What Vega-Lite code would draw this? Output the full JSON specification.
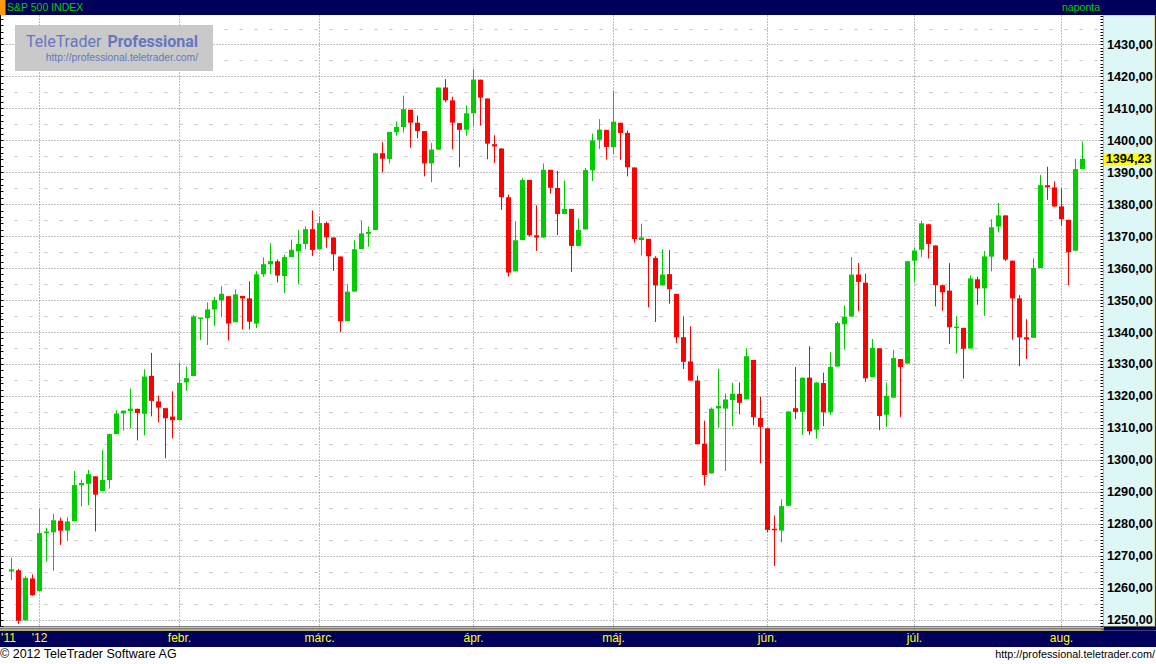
{
  "$schema": "https://vega.github.io/schema/vega-lite/v6.json",
  "width": 1156,
  "height": 664,
  "autosize": {"type": "none"},
  "padding": 0,
  "background": "#ffffff",
  "config": {
    "view": {"stroke": null},
    "font": "Liberation Sans",
    "scale": {"continuousPadding": 0},
    "axis": {"minExtent": 0, "maxExtent": 0},
    "locale": {"number": {"decimal": ",", "thousands": ".", "grouping": [3], "currency": ["", ""]}}
  },
  "datasets": {
    "ohlc": [
      {"i":0,"d":"2011-12-27","o":1265.02,"h":1269.37,"l":1262.30,"c":1265.43},
      {"i":1,"d":"2011-12-28","o":1265.38,"h":1265.85,"l":1248.64,"c":1249.64},
      {"i":2,"d":"2011-12-29","o":1249.75,"h":1263.54,"l":1249.75,"c":1263.02},
      {"i":3,"d":"2011-12-30","o":1262.82,"h":1264.12,"l":1257.46,"c":1257.60},
      {"i":4,"d":"2012-01-03","o":1258.86,"h":1284.62,"l":1258.86,"c":1277.06},
      {"i":5,"d":"2012-01-04","o":1277.03,"h":1278.73,"l":1268.10,"c":1277.30},
      {"i":6,"d":"2012-01-05","o":1277.30,"h":1283.05,"l":1265.26,"c":1281.06},
      {"i":7,"d":"2012-01-06","o":1280.93,"h":1281.84,"l":1273.34,"c":1277.81},
      {"i":8,"d":"2012-01-09","o":1277.83,"h":1281.99,"l":1274.55,"c":1280.70},
      {"i":9,"d":"2012-01-10","o":1280.77,"h":1296.46,"l":1280.77,"c":1292.08},
      {"i":10,"d":"2012-01-11","o":1292.02,"h":1293.80,"l":1285.41,"c":1292.48},
      {"i":11,"d":"2012-01-12","o":1292.48,"h":1296.82,"l":1285.77,"c":1295.50},
      {"i":12,"d":"2012-01-13","o":1294.82,"h":1294.82,"l":1277.58,"c":1289.09},
      {"i":13,"d":"2012-01-17","o":1290.22,"h":1303.00,"l":1290.22,"c":1293.67},
      {"i":14,"d":"2012-01-18","o":1293.65,"h":1308.11,"l":1290.99,"c":1308.04},
      {"i":15,"d":"2012-01-19","o":1308.07,"h":1315.49,"l":1308.07,"c":1314.50},
      {"i":16,"d":"2012-01-20","o":1314.49,"h":1315.38,"l":1309.17,"c":1315.38},
      {"i":17,"d":"2012-01-23","o":1315.29,"h":1322.28,"l":1309.89,"c":1316.00},
      {"i":18,"d":"2012-01-24","o":1315.96,"h":1315.96,"l":1306.06,"c":1314.65},
      {"i":19,"d":"2012-01-25","o":1314.40,"h":1328.30,"l":1307.65,"c":1326.06},
      {"i":20,"d":"2012-01-26","o":1326.28,"h":1333.47,"l":1313.60,"c":1318.43},
      {"i":21,"d":"2012-01-27","o":1318.25,"h":1320.06,"l":1311.72,"c":1316.33},
      {"i":22,"d":"2012-01-30","o":1316.16,"h":1316.16,"l":1300.49,"c":1313.01},
      {"i":23,"d":"2012-01-31","o":1313.53,"h":1321.41,"l":1306.69,"c":1312.41},
      {"i":24,"d":"2012-02-01","o":1312.45,"h":1330.52,"l":1312.45,"c":1324.09},
      {"i":25,"d":"2012-02-02","o":1324.24,"h":1329.19,"l":1321.57,"c":1325.54},
      {"i":26,"d":"2012-02-03","o":1326.21,"h":1345.34,"l":1326.21,"c":1344.90},
      {"i":27,"d":"2012-02-06","o":1344.32,"h":1344.36,"l":1337.52,"c":1344.33},
      {"i":28,"d":"2012-02-07","o":1344.33,"h":1349.24,"l":1335.92,"c":1347.05},
      {"i":29,"d":"2012-02-08","o":1347.04,"h":1351.00,"l":1341.95,"c":1349.96},
      {"i":30,"d":"2012-02-09","o":1349.97,"h":1354.32,"l":1344.63,"c":1351.95},
      {"i":31,"d":"2012-02-10","o":1351.21,"h":1351.21,"l":1337.35,"c":1342.64},
      {"i":32,"d":"2012-02-13","o":1343.06,"h":1353.35,"l":1343.06,"c":1351.77},
      {"i":33,"d":"2012-02-14","o":1351.30,"h":1351.30,"l":1340.83,"c":1350.50},
      {"i":34,"d":"2012-02-15","o":1350.52,"h":1355.87,"l":1340.80,"c":1343.23},
      {"i":35,"d":"2012-02-16","o":1342.61,"h":1359.02,"l":1341.22,"c":1358.04},
      {"i":36,"d":"2012-02-17","o":1358.06,"h":1363.40,"l":1357.24,"c":1361.23},
      {"i":37,"d":"2012-02-21","o":1361.22,"h":1367.76,"l":1358.11,"c":1362.21},
      {"i":38,"d":"2012-02-22","o":1362.11,"h":1362.70,"l":1355.53,"c":1357.66},
      {"i":39,"d":"2012-02-23","o":1357.53,"h":1364.24,"l":1352.28,"c":1363.46},
      {"i":40,"d":"2012-02-24","o":1363.46,"h":1368.92,"l":1363.46,"c":1365.74},
      {"i":41,"d":"2012-02-27","o":1365.20,"h":1371.94,"l":1354.92,"c":1367.59},
      {"i":42,"d":"2012-02-28","o":1367.56,"h":1373.09,"l":1365.97,"c":1372.18},
      {"i":43,"d":"2012-02-29","o":1372.20,"h":1378.04,"l":1363.81,"c":1365.68},
      {"i":44,"d":"2012-03-01","o":1365.90,"h":1376.17,"l":1365.90,"c":1374.09},
      {"i":45,"d":"2012-03-02","o":1374.09,"h":1374.53,"l":1366.42,"c":1369.63},
      {"i":46,"d":"2012-03-05","o":1369.59,"h":1369.59,"l":1359.13,"c":1364.33},
      {"i":47,"d":"2012-03-06","o":1363.63,"h":1363.63,"l":1340.03,"c":1343.36},
      {"i":48,"d":"2012-03-07","o":1343.39,"h":1354.85,"l":1343.39,"c":1352.63},
      {"i":49,"d":"2012-03-08","o":1352.65,"h":1368.72,"l":1352.65,"c":1365.91},
      {"i":50,"d":"2012-03-09","o":1365.97,"h":1374.76,"l":1365.97,"c":1370.87},
      {"i":51,"d":"2012-03-12","o":1370.78,"h":1373.04,"l":1366.69,"c":1371.09},
      {"i":52,"d":"2012-03-13","o":1371.92,"h":1396.13,"l":1371.92,"c":1395.95},
      {"i":53,"d":"2012-03-14","o":1395.95,"h":1399.42,"l":1389.97,"c":1394.28},
      {"i":54,"d":"2012-03-15","o":1394.17,"h":1402.63,"l":1392.78,"c":1402.60},
      {"i":55,"d":"2012-03-16","o":1402.55,"h":1405.88,"l":1401.47,"c":1404.17},
      {"i":56,"d":"2012-03-19","o":1404.17,"h":1414.00,"l":1402.43,"c":1409.75},
      {"i":57,"d":"2012-03-20","o":1409.59,"h":1409.59,"l":1397.68,"c":1405.52},
      {"i":58,"d":"2012-03-21","o":1405.52,"h":1407.75,"l":1400.64,"c":1402.89},
      {"i":59,"d":"2012-03-22","o":1402.89,"h":1402.89,"l":1388.73,"c":1392.78},
      {"i":60,"d":"2012-03-23","o":1392.78,"h":1399.18,"l":1386.87,"c":1397.11},
      {"i":61,"d":"2012-03-26","o":1397.11,"h":1416.58,"l":1397.11,"c":1416.51},
      {"i":62,"d":"2012-03-27","o":1416.55,"h":1419.15,"l":1411.95,"c":1412.52},
      {"i":63,"d":"2012-03-28","o":1412.52,"h":1413.65,"l":1397.20,"c":1405.54},
      {"i":64,"d":"2012-03-29","o":1405.39,"h":1405.39,"l":1391.56,"c":1403.28},
      {"i":65,"d":"2012-03-30","o":1403.31,"h":1410.89,"l":1401.42,"c":1408.47},
      {"i":66,"d":"2012-04-02","o":1408.47,"h":1422.38,"l":1404.46,"c":1419.04},
      {"i":67,"d":"2012-04-03","o":1418.98,"h":1419.00,"l":1404.62,"c":1413.38},
      {"i":68,"d":"2012-04-04","o":1413.09,"h":1413.09,"l":1394.09,"c":1398.96},
      {"i":69,"d":"2012-04-05","o":1398.79,"h":1401.60,"l":1392.92,"c":1398.08},
      {"i":70,"d":"2012-04-09","o":1397.45,"h":1397.45,"l":1378.24,"c":1382.20},
      {"i":71,"d":"2012-04-10","o":1382.18,"h":1383.01,"l":1357.38,"c":1358.59},
      {"i":72,"d":"2012-04-11","o":1358.98,"h":1374.71,"l":1358.98,"c":1368.71},
      {"i":73,"d":"2012-04-12","o":1368.77,"h":1388.13,"l":1368.77,"c":1387.57},
      {"i":74,"d":"2012-04-13","o":1387.61,"h":1387.61,"l":1369.85,"c":1370.26},
      {"i":75,"d":"2012-04-16","o":1370.27,"h":1379.66,"l":1365.38,"c":1369.57},
      {"i":76,"d":"2012-04-17","o":1369.57,"h":1392.76,"l":1369.57,"c":1390.78},
      {"i":77,"d":"2012-04-18","o":1390.78,"h":1390.78,"l":1383.29,"c":1385.14},
      {"i":78,"d":"2012-04-19","o":1385.08,"h":1390.46,"l":1370.30,"c":1376.92},
      {"i":79,"d":"2012-04-20","o":1376.96,"h":1387.40,"l":1376.96,"c":1378.53},
      {"i":80,"d":"2012-04-23","o":1378.53,"h":1378.53,"l":1358.79,"c":1366.94},
      {"i":81,"d":"2012-04-24","o":1366.97,"h":1375.57,"l":1366.82,"c":1371.97},
      {"i":82,"d":"2012-04-25","o":1372.11,"h":1391.37,"l":1372.11,"c":1390.69},
      {"i":83,"d":"2012-04-26","o":1390.64,"h":1402.09,"l":1387.28,"c":1399.98},
      {"i":84,"d":"2012-04-27","o":1400.19,"h":1406.64,"l":1397.31,"c":1403.36},
      {"i":85,"d":"2012-04-30","o":1403.26,"h":1403.26,"l":1394.00,"c":1397.91},
      {"i":86,"d":"2012-05-01","o":1397.86,"h":1415.32,"l":1395.73,"c":1405.82},
      {"i":87,"d":"2012-05-02","o":1405.50,"h":1405.50,"l":1393.92,"c":1402.31},
      {"i":88,"d":"2012-05-03","o":1402.32,"h":1403.07,"l":1388.71,"c":1391.57},
      {"i":89,"d":"2012-05-04","o":1391.51,"h":1391.51,"l":1367.96,"c":1369.10},
      {"i":90,"d":"2012-05-07","o":1368.79,"h":1373.91,"l":1363.94,"c":1369.58},
      {"i":91,"d":"2012-05-08","o":1369.16,"h":1369.16,"l":1347.75,"c":1363.72},
      {"i":92,"d":"2012-05-09","o":1363.20,"h":1363.73,"l":1343.13,"c":1354.58},
      {"i":93,"d":"2012-05-10","o":1354.58,"h":1365.88,"l":1354.58,"c":1357.99},
      {"i":94,"d":"2012-05-11","o":1358.11,"h":1365.66,"l":1348.89,"c":1353.39},
      {"i":95,"d":"2012-05-14","o":1351.93,"h":1351.93,"l":1336.61,"c":1338.35},
      {"i":96,"d":"2012-05-15","o":1338.36,"h":1344.94,"l":1328.41,"c":1330.66},
      {"i":97,"d":"2012-05-16","o":1330.78,"h":1341.78,"l":1324.79,"c":1324.80},
      {"i":98,"d":"2012-05-17","o":1324.82,"h":1326.36,"l":1304.86,"c":1304.86},
      {"i":99,"d":"2012-05-18","o":1305.05,"h":1312.24,"l":1291.98,"c":1295.22},
      {"i":100,"d":"2012-05-21","o":1295.73,"h":1316.39,"l":1295.73,"c":1315.99},
      {"i":101,"d":"2012-05-22","o":1316.09,"h":1328.49,"l":1310.04,"c":1316.63},
      {"i":102,"d":"2012-05-23","o":1316.02,"h":1320.71,"l":1296.53,"c":1318.86},
      {"i":103,"d":"2012-05-24","o":1318.72,"h":1324.14,"l":1310.50,"c":1320.68},
      {"i":104,"d":"2012-05-25","o":1320.64,"h":1324.20,"l":1314.23,"c":1317.82},
      {"i":105,"d":"2012-05-29","o":1318.90,"h":1334.93,"l":1318.90,"c":1332.42},
      {"i":106,"d":"2012-05-30","o":1331.25,"h":1331.25,"l":1310.76,"c":1313.32},
      {"i":107,"d":"2012-05-31","o":1313.09,"h":1319.74,"l":1298.90,"c":1310.33},
      {"i":108,"d":"2012-06-01","o":1309.87,"h":1309.87,"l":1277.25,"c":1278.04},
      {"i":109,"d":"2012-06-04","o":1278.29,"h":1282.55,"l":1266.74,"c":1278.18},
      {"i":110,"d":"2012-06-05","o":1277.82,"h":1287.62,"l":1274.16,"c":1285.50},
      {"i":111,"d":"2012-06-06","o":1285.61,"h":1315.13,"l":1285.61,"c":1315.13},
      {"i":112,"d":"2012-06-07","o":1316.15,"h":1329.05,"l":1312.68,"c":1314.99},
      {"i":113,"d":"2012-06-08","o":1314.99,"h":1325.81,"l":1307.77,"c":1325.66},
      {"i":114,"d":"2012-06-11","o":1325.72,"h":1335.52,"l":1307.73,"c":1308.93},
      {"i":115,"d":"2012-06-12","o":1309.40,"h":1324.31,"l":1306.62,"c":1324.18},
      {"i":116,"d":"2012-06-13","o":1324.02,"h":1327.28,"l":1310.51,"c":1314.88},
      {"i":117,"d":"2012-06-14","o":1314.88,"h":1333.68,"l":1314.14,"c":1329.10},
      {"i":118,"d":"2012-06-15","o":1329.19,"h":1343.32,"l":1329.19,"c":1342.84},
      {"i":119,"d":"2012-06-18","o":1342.42,"h":1348.22,"l":1334.46,"c":1344.78},
      {"i":120,"d":"2012-06-19","o":1344.83,"h":1363.46,"l":1344.83,"c":1357.98},
      {"i":121,"d":"2012-06-20","o":1357.98,"h":1361.57,"l":1346.45,"c":1355.69},
      {"i":122,"d":"2012-06-21","o":1355.43,"h":1358.27,"l":1324.41,"c":1325.51},
      {"i":123,"d":"2012-06-22","o":1325.92,"h":1337.82,"l":1325.92,"c":1335.02},
      {"i":124,"d":"2012-06-25","o":1334.90,"h":1334.90,"l":1309.27,"c":1313.72},
      {"i":125,"d":"2012-06-26","o":1314.09,"h":1324.24,"l":1310.30,"c":1319.99},
      {"i":126,"d":"2012-06-27","o":1319.45,"h":1334.40,"l":1319.45,"c":1331.85},
      {"i":127,"d":"2012-06-28","o":1331.52,"h":1331.52,"l":1313.29,"c":1329.04},
      {"i":128,"d":"2012-06-29","o":1330.12,"h":1362.17,"l":1330.12,"c":1362.16},
      {"i":129,"d":"2012-07-02","o":1362.33,"h":1366.35,"l":1355.70,"c":1365.51},
      {"i":130,"d":"2012-07-03","o":1365.75,"h":1374.81,"l":1363.53,"c":1374.02},
      {"i":131,"d":"2012-07-05","o":1373.72,"h":1373.85,"l":1363.02,"c":1367.58},
      {"i":132,"d":"2012-07-06","o":1367.09,"h":1367.09,"l":1348.03,"c":1354.68},
      {"i":133,"d":"2012-07-09","o":1354.66,"h":1354.87,"l":1346.65,"c":1352.46},
      {"i":134,"d":"2012-07-10","o":1352.96,"h":1361.54,"l":1336.27,"c":1341.47},
      {"i":135,"d":"2012-07-11","o":1341.40,"h":1345.00,"l":1333.25,"c":1341.45},
      {"i":136,"d":"2012-07-12","o":1341.29,"h":1341.29,"l":1325.41,"c":1334.76},
      {"i":137,"d":"2012-07-13","o":1334.81,"h":1357.70,"l":1334.81,"c":1356.78},
      {"i":138,"d":"2012-07-16","o":1356.50,"h":1357.26,"l":1348.51,"c":1353.64},
      {"i":139,"d":"2012-07-17","o":1353.68,"h":1365.36,"l":1345.07,"c":1363.67},
      {"i":140,"d":"2012-07-18","o":1363.58,"h":1375.26,"l":1358.96,"c":1372.78},
      {"i":141,"d":"2012-07-19","o":1373.01,"h":1380.39,"l":1371.21,"c":1376.51},
      {"i":142,"d":"2012-07-20","o":1376.51,"h":1376.51,"l":1362.19,"c":1362.66},
      {"i":143,"d":"2012-07-23","o":1362.34,"h":1362.34,"l":1337.56,"c":1350.52},
      {"i":144,"d":"2012-07-24","o":1350.52,"h":1351.53,"l":1329.24,"c":1338.31},
      {"i":145,"d":"2012-07-25","o":1338.35,"h":1343.98,"l":1331.50,"c":1337.89},
      {"i":146,"d":"2012-07-26","o":1338.17,"h":1363.13,"l":1338.17,"c":1360.02},
      {"i":147,"d":"2012-07-27","o":1360.05,"h":1389.19,"l":1360.05,"c":1385.97},
      {"i":148,"d":"2012-07-30","o":1385.94,"h":1391.74,"l":1381.37,"c":1385.30},
      {"i":149,"d":"2012-07-31","o":1385.27,"h":1387.16,"l":1379.17,"c":1379.32},
      {"i":150,"d":"2012-08-01","o":1379.32,"h":1385.03,"l":1373.35,"c":1375.32},
      {"i":151,"d":"2012-08-02","o":1375.13,"h":1375.13,"l":1354.65,"c":1365.00},
      {"i":152,"d":"2012-08-03","o":1365.45,"h":1394.16,"l":1365.45,"c":1390.99},
      {"i":153,"d":"2012-08-06","o":1391.04,"h":1399.63,"l":1391.04,"c":1394.23}
    ],
    "months": [
      {"m": "'11", "i": -0.43},
      {"m": "'12", "i": 4},
      {"m": "febr.", "i": 24},
      {"m": "márc.", "i": 44},
      {"m": "ápr.", "i": 66},
      {"m": "máj.", "i": 86},
      {"m": "jún.", "i": 108},
      {"m": "júl.", "i": 129},
      {"m": "aug.", "i": 150}
    ]
  },
  "resolve": {"axis": {"x": "independent", "y": "independent"}},
  "layer": [
    {
      "data": {"values": [{}]},
      "mark": {"type": "rect", "color": "#c9c9c9"},
      "encoding": {
        "x": {"datum": 0.5, "type": "quantitative", "scale": {"domain": [-1.642857, 163.5], "nice": false, "zero": false, "padding": 0}, "axis": null},
        "x2": {"datum": 28.785714},
        "y": {"datum": 1436.104, "type": "quantitative", "scale": {"domain": [1236.07, 1443.93], "nice": false, "zero": false, "padding": 0}, "axis": null},
        "y2": {"datum": 1421.704}
      }
    },
    {
      "data": {"values": [{}]},
      "mark": {"type": "text", "text": "TeleTrader", "font": "Roboto", "fontSize": 16, "color": "#6676c0", "align": "left", "baseline": "alphabetic"},
      "encoding": {
        "x": {"datum": 2.071429, "type": "quantitative", "scale": {"domain": [-1.642857, 163.5], "nice": false, "zero": false, "padding": 0}, "axis": null},
        "y": {"datum": 1429.373, "type": "quantitative", "scale": {"domain": [1236.07, 1443.93], "nice": false, "zero": false, "padding": 0}, "axis": null}
      }
    },
    {
      "data": {"values": [{}]},
      "mark": {"type": "text", "text": "Professional", "font": "Roboto", "fontSize": 16, "fontWeight": "bold", "color": "#6676c0", "align": "right", "baseline": "alphabetic"},
      "encoding": {
        "x": {"datum": 26.642857, "type": "quantitative", "scale": {"domain": [-1.642857, 163.5], "nice": false, "zero": false, "padding": 0}, "axis": null},
        "y": {"datum": 1429.373, "type": "quantitative", "scale": {"domain": [1236.07, 1443.93], "nice": false, "zero": false, "padding": 0}, "axis": null}
      }
    },
    {
      "data": {"values": [{}]},
      "mark": {"type": "text", "text": "http://professional.teletrader.com/", "font": "Liberation Sans", "fontSize": 10.3, "color": "#6676c0", "align": "right", "baseline": "alphabetic"},
      "encoding": {
        "x": {"datum": 26.642857, "type": "quantitative", "scale": {"domain": [-1.642857, 163.5], "nice": false, "zero": false, "padding": 0}, "axis": null},
        "y": {"datum": 1424.834, "type": "quantitative", "scale": {"domain": [1236.07, 1443.93], "nice": false, "zero": false, "padding": 0}, "axis": null}
      }
    },
    {
      "data": {"name": "ohlc"},
      "mark": {"type": "rule", "strokeWidth": 1},
      "encoding": {
        "x": {"field": "i", "type": "quantitative", "scale": {"domain": [-1.642857, 163.5], "nice": false, "zero": false, "padding": 0},
              "axis": {"orient": "bottom", "values": [4, 24, 44, 66, 86, 108, 129, 150], "grid": true, "gridDash": [1, 2], "gridColor": "#7a7a7a", "gridOpacity": 1, "gridWidth": 1, "labels": false, "ticks": false, "domain": false, "title": null}},
        "y": {"field": "l", "type": "quantitative", "scale": {"domain": [1236.07, 1443.93], "nice": false, "zero": false, "padding": 0},
              "axis": {"orient": "left", "values": [1250, 1260, 1270, 1280, 1290, 1300, 1310, 1320, 1330, 1340, 1350, 1360, 1370, 1380, 1390, 1400, 1410, 1420, 1430], "grid": true, "gridDash": [1, 2], "gridColor": "#7a7a7a", "gridOpacity": 1, "gridWidth": 1, "labels": false, "ticks": false, "domain": false, "title": null}},
        "y2": {"field": "h"},
        "color": {"condition": {"test": "datum.c >= datum.o", "value": "#00cc00"}, "value": "#ff0000"}
      }
    },
    {
      "data": {"name": "ohlc"},
      "mark": {"type": "bar", "width": 5},
      "encoding": {
        "x": {"field": "i", "type": "quantitative", "scale": {"domain": [-1.642857, 163.5], "nice": false, "zero": false, "padding": 0}, "axis": null},
        "y": {"field": "o", "type": "quantitative", "scale": {"domain": [1236.07, 1443.93], "nice": false, "zero": false, "padding": 0},
              "axis": {"orient": "left", "values": [1255, 1265, 1275, 1285, 1295, 1305, 1315, 1325, 1335, 1345, 1355, 1365, 1375, 1385, 1395, 1405, 1415, 1425, 1435], "grid": true, "gridDash": [3, 12], "gridDashOffset": 1, "gridColor": "#c4c4c4", "gridOpacity": 1, "gridWidth": 1, "labels": false, "ticks": false, "domain": false, "title": null}},
        "y2": {"field": "c"},
        "color": {"condition": {"test": "datum.c >= datum.o", "value": "#00cc00"}, "value": "#ff0000"}
      }
    },
    {
      "data": {"name": "ohlc"},
      "transform": [{"filter": "abs(datum.c - datum.o) < 0.6"}],
      "mark": {"type": "rule", "strokeWidth": 1.5, "xOffset": -2.5, "x2Offset": 2.5},
      "encoding": {
        "x": {"field": "i", "type": "quantitative", "scale": {"domain": [-1.642857, 163.5], "nice": false, "zero": false, "padding": 0}, "axis": null},
        "x2": {"field": "i"},
        "y": {"field": "c", "type": "quantitative", "scale": {"domain": [1236.07, 1443.93], "nice": false, "zero": false, "padding": 0},
              "axis": {"orient": "left", "offset": -3, "tickCount": 104, "ticks": true, "tickSize": 3, "tickColor": "#000000", "tickWidth": 1, "labels": false, "domain": false, "grid": false, "title": null}},
        "color": {"condition": {"test": "datum.c >= datum.o", "value": "#00cc00"}, "value": "#ff0000"}
      }
    },
    {
      "data": {"values": [{}]},
      "mark": {"type": "rect", "color": "#000000"},
      "encoding": {
        "x": {"datum": -1.642857, "type": "quantitative", "scale": {"domain": [-1.642857, 163.5], "nice": false, "zero": false, "padding": 0}, "axis": null},
        "x2": {"datum": -1.5},
        "y": {"datum": 1439.234, "type": "quantitative", "scale": {"domain": [1236.07, 1443.93], "nice": false, "zero": false, "padding": 0}, "axis": null},
        "y2": {"datum": 1247.808}
      }
    },
    {
      "data": {"values": [{}]},
      "mark": {"type": "rect", "color": "#ddf6f6", "stroke": "#e2b83a", "strokeWidth": 1},
      "encoding": {
        "x": {"datum": 156.0, "type": "quantitative", "scale": {"domain": [-1.642857, 163.5], "nice": false, "zero": false, "padding": 0}, "axis": null},
        "x2": {"datum": 163.357},
        "y": {"datum": 1439.234, "type": "quantitative", "scale": {"domain": [1236.07, 1443.93], "nice": false, "zero": false, "padding": 0}, "axis": null},
        "y2": {"datum": 1247.808}
      }
    },
    {
      "data": {"values": [{}]},
      "mark": {"type": "rect", "color": "#1a2c9e"},
      "encoding": {
        "x": {"datum": 163.357, "type": "quantitative", "scale": {"domain": [-1.642857, 163.5], "nice": false, "zero": false, "padding": 0}, "axis": null},
        "x2": {"datum": 163.5},
        "y": {"datum": 1439.234, "type": "quantitative", "scale": {"domain": [1236.07, 1443.93], "nice": false, "zero": false, "padding": 0}, "axis": null},
        "y2": {"datum": 1247.808}
      }
    },
    {
      "data": {"values": [{}]},
      "mark": {"type": "rect", "color": "#00005a"},
      "encoding": {
        "x": {"datum": -1.642857, "type": "quantitative", "scale": {"domain": [-1.642857, 163.5], "nice": false, "zero": false, "padding": 0}, "axis": null},
        "x2": {"datum": 163.5},
        "y": {"datum": 1443.93, "type": "quantitative", "scale": {"domain": [1236.07, 1443.93], "nice": false, "zero": false, "padding": 0}, "axis": null},
        "y2": {"datum": 1439.234}
      }
    },
    {
      "data": {"values": [{}]},
      "mark": {"type": "rect", "color": "#ff9a00"},
      "encoding": {
        "x": {"datum": -1.642857, "type": "quantitative", "scale": {"domain": [-1.642857, 163.5], "nice": false, "zero": false, "padding": 0}, "axis": null},
        "x2": {"datum": -0.857143},
        "y": {"datum": 1443.93, "type": "quantitative", "scale": {"domain": [1236.07, 1443.93], "nice": false, "zero": false, "padding": 0}, "axis": null},
        "y2": {"datum": 1439.234}
      }
    },
    {
      "data": {"values": [{}]},
      "mark": {"type": "text", "text": "S&P 500 INDEX", "font": "Liberation Sans", "fontSize": 10.5, "color": "#00d000", "align": "left", "baseline": "alphabetic"},
      "encoding": {
        "x": {"datum": -0.642857, "type": "quantitative", "scale": {"domain": [-1.642857, 163.5], "nice": false, "zero": false, "padding": 0}, "axis": null},
        "y": {"datum": 1440.487, "type": "quantitative", "scale": {"domain": [1236.07, 1443.93], "nice": false, "zero": false, "padding": 0}, "axis": null}
      }
    },
    {
      "data": {"values": [{}]},
      "mark": {"type": "text", "text": "naponta", "font": "Liberation Sans", "fontSize": 10.5, "color": "#00d000", "align": "right", "baseline": "alphabetic"},
      "encoding": {
        "x": {"datum": 155.5, "type": "quantitative", "scale": {"domain": [-1.642857, 163.5], "nice": false, "zero": false, "padding": 0}, "axis": null},
        "y": {"datum": 1440.487, "type": "quantitative", "scale": {"domain": [1236.07, 1443.93], "nice": false, "zero": false, "padding": 0}, "axis": null}
      }
    },
    {
      "data": {"values": [{}]},
      "mark": {"type": "rect", "color": "#00005a"},
      "encoding": {
        "x": {"datum": -1.642857, "type": "quantitative", "scale": {"domain": [-1.642857, 163.5], "nice": false, "zero": false, "padding": 0}, "axis": null},
        "x2": {"datum": 163.5},
        "y": {"datum": 1246.556, "type": "quantitative", "scale": {"domain": [1236.07, 1443.93], "nice": false, "zero": false, "padding": 0}, "axis": null},
        "y2": {"datum": 1241.391}
      }
    },
    {
      "data": {"values": [{}]},
      "mark": {"type": "rect", "color": "#00005a"},
      "encoding": {
        "x": {"datum": 156.0, "type": "quantitative", "scale": {"domain": [-1.642857, 163.5], "nice": false, "zero": false, "padding": 0}, "axis": null},
        "x2": {"datum": 163.5},
        "y": {"datum": 1247.808, "type": "quantitative", "scale": {"domain": [1236.07, 1443.93], "nice": false, "zero": false, "padding": 0}, "axis": null},
        "y2": {"datum": 1246.556}
      }
    },
    {
      "data": {"values": [{}]},
      "mark": {"type": "rect", "color": "#000000"},
      "encoding": {
        "x": {"datum": -1.642857, "type": "quantitative", "scale": {"domain": [-1.642857, 163.5], "nice": false, "zero": false, "padding": 0}, "axis": null},
        "x2": {"datum": 156.0},
        "y": {"datum": 1247.808, "type": "quantitative", "scale": {"domain": [1236.07, 1443.93], "nice": false, "zero": false, "padding": 0}, "axis": null},
        "y2": {"datum": 1247.495}
      }
    },
    {
      "data": {"values": [{}]},
      "mark": {"type": "rect", "color": "#ffffff"},
      "encoding": {
        "x": {"datum": -1.642857, "type": "quantitative", "scale": {"domain": [-1.642857, 163.5], "nice": false, "zero": false, "padding": 0}, "axis": null},
        "x2": {"datum": 156.0},
        "y": {"datum": 1247.495, "type": "quantitative", "scale": {"domain": [1236.07, 1443.93], "nice": false, "zero": false, "padding": 0}, "axis": null},
        "y2": {"datum": 1247.182}
      }
    },
    {
      "data": {"values": [{}]},
      "mark": {"type": "rect", "color": "#000000"},
      "encoding": {
        "x": {"datum": -1.642857, "type": "quantitative", "scale": {"domain": [-1.642857, 163.5], "nice": false, "zero": false, "padding": 0}, "axis": null},
        "x2": {"datum": 156.0},
        "y": {"datum": 1247.182, "type": "quantitative", "scale": {"domain": [1236.07, 1443.93], "nice": false, "zero": false, "padding": 0}, "axis": null},
        "y2": {"datum": 1246.869}
      }
    },
    {
      "data": {"values": [{}]},
      "mark": {"type": "rect", "color": "#f0e020"},
      "encoding": {
        "x": {"datum": -1.642857, "type": "quantitative", "scale": {"domain": [-1.642857, 163.5], "nice": false, "zero": false, "padding": 0}, "axis": null},
        "x2": {"datum": 156.0},
        "y": {"datum": 1246.869, "type": "quantitative", "scale": {"domain": [1236.07, 1443.93], "nice": false, "zero": false, "padding": 0}, "axis": null},
        "y2": {"datum": 1246.556}
      }
    },
    {
      "data": {"name": "months"},
      "mark": {"type": "text", "font": "Liberation Sans", "fontSize": 12, "color": "#ffff00", "align": "center", "baseline": "alphabetic"},
      "encoding": {
        "x": {"field": "i", "type": "quantitative", "scale": {"domain": [-1.642857, 163.5], "nice": false, "zero": false, "padding": 0}, "axis": null},
        "y": {"datum": 1242.956, "type": "quantitative", "scale": {"domain": [1236.07, 1443.93], "nice": false, "zero": false, "padding": 0}, "axis": null},
        "text": {"field": "m"}
      }
    },
    {
      "data": {"values": [{}]},
      "mark": {"type": "rect", "color": "#ffffff"},
      "encoding": {
        "x": {"datum": -1.642857, "type": "quantitative", "scale": {"domain": [-1.642857, 163.5], "nice": false, "zero": false, "padding": 0}, "axis": null},
        "x2": {"datum": 163.5},
        "y": {"datum": 1241.391, "type": "quantitative", "scale": {"domain": [1236.07, 1443.93], "nice": false, "zero": false, "padding": 0}, "axis": null},
        "y2": {"datum": 1236.07}
      }
    },
    {
      "data": {"values": [{}]},
      "mark": {"type": "text", "text": "© 2012 TeleTrader Software AG", "font": "Liberation Sans", "fontSize": 12.5, "color": "#000000", "align": "left", "baseline": "alphabetic"},
      "encoding": {
        "x": {"datum": -1.642857, "type": "quantitative", "scale": {"domain": [-1.642857, 163.5], "nice": false, "zero": false, "padding": 0}, "axis": null},
        "y": {"datum": 1237.947, "type": "quantitative", "scale": {"domain": [1236.07, 1443.93], "nice": false, "zero": false, "padding": 0}, "axis": null}
      }
    },
    {
      "data": {"values": [{}]},
      "mark": {"type": "text", "text": "http://professional.teletrader.com/", "font": "Liberation Sans", "fontSize": 10.8, "color": "#000000", "align": "right", "baseline": "alphabetic"},
      "encoding": {
        "x": {"datum": 163.357, "type": "quantitative", "scale": {"domain": [-1.642857, 163.5], "nice": false, "zero": false, "padding": 0}, "axis": null},
        "y": {"datum": 1237.947, "type": "quantitative", "scale": {"domain": [1236.07, 1443.93], "nice": false, "zero": false, "padding": 0}, "axis": null}
      }
    },
    {
      "data": {"name": "ohlc"},
      "transform": [{"filter": "datum.i == 153"}],
      "mark": {"type": "rect", "color": "#ffff00", "yOffset": -5.8, "y2Offset": 6.2},
      "encoding": {
        "x": {"datum": 156.071, "type": "quantitative", "scale": {"domain": [-1.642857, 163.5], "nice": false, "zero": false, "padding": 0}, "axis": null},
        "x2": {"datum": 162.929},
        "y": {"field": "c", "type": "quantitative", "scale": {"domain": [1236.07, 1443.93], "nice": false, "zero": false, "padding": 0},
              "axis": {"orient": "left", "offset": -1103, "tickCount": 200, "ticks": true, "tickSize": 3, "tickColor": "#000000", "tickWidth": 1, "labels": false, "domain": false, "grid": false, "title": null}},
        "y2": {"field": "c"}
      }
    },
    {
      "data": {"name": "ohlc"},
      "transform": [{"filter": "datum.i == 153"}],
      "mark": {"type": "text", "font": "Liberation Sans", "fontSize": 12.7, "fontWeight": "bold", "color": "#000000", "align": "left", "baseline": "middle"},
      "encoding": {
        "x": {"datum": 156.314, "type": "quantitative", "scale": {"domain": [-1.642857, 163.5], "nice": false, "zero": false, "padding": 0}, "axis": null},
        "y": {"field": "c", "type": "quantitative", "scale": {"domain": [1236.07, 1443.93], "nice": false, "zero": false, "padding": 0},
              "axis": {"orient": "right", "offset": -49.5, "values": [1250, 1260, 1270, 1280, 1290, 1300, 1310, 1320, 1330, 1340, 1350, 1360, 1370, 1380, 1390, 1400, 1410, 1420, 1430], "format": ".2f", "labelFont": "Liberation Sans", "labelFontSize": 12.7, "labelFontWeight": "bold", "labelColor": "#000000", "labelAlign": "left", "labelBaseline": "middle", "labelPadding": 0, "labelOverlap": false, "ticks": false, "tickSize": 0, "domain": false, "grid": false, "title": null, "zindex": 1}},
        "text": {"field": "c", "type": "quantitative", "format": ".2f"}
      }
    }
  ]
}
